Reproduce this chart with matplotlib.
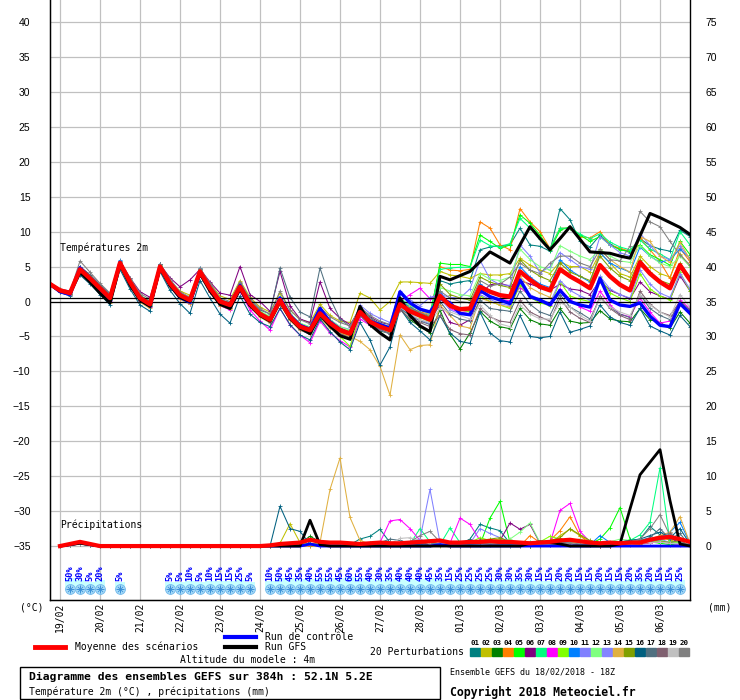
import numpy as np
import matplotlib
matplotlib.use('Agg')
import matplotlib.pyplot as plt
from matplotlib.lines import Line2D
from matplotlib.patches import Rectangle

# 6-hourly steps from 18/02 18Z, 65 steps = 384h
steps = np.arange(65)
date_steps = [1, 5, 9, 13, 17, 21, 25, 29, 33, 37, 41, 45, 49, 53, 57, 61]
date_labels = ['19/02', '20/02', '21/02', '22/02', '23/02', '24/02', '25/02', '26/02',
               '27/02', '28/02', '01/03', '02/03', '03/03', '04/03', '05/03', '06/03']

# temperature 2m (degC)
t_mean = [2.5, 1.6, 1.2, 4.6, 3.3, 1.9, 0.5, 5.5, 2.8, 0.5, -0.4, 5.0, 2.6, 0.9, 0.2, 4.3, 1.9, 0.0, -0.5, 2.1, -0.3,
          -1.8, -2.6, 0.2, -2.2, -3.6, -4.1, -1.7, -3.1, -4.1, -4.6, -1.5, -2.9, -3.6, -4.1, -0.4, -1.4, -2.0, -2.6, 0.8, -0.6,
          -1.1, -1.0, 2.1, 1.4, 0.9, 0.7, 4.3, 3.1, 2.1, 1.6, 4.6, 3.6, 2.8, 1.9, 5.2, 3.6, 2.4, 1.6, 5.6, 4.0, 2.8, 1.9, 5.2, 3.1]
t_ctrl = [2.5, 1.4, 1.0, 4.8, 3.2, 1.6, 0.3, 5.6, 2.6, 0.3, -0.6, 5.0, 2.4, 0.6, -0.1, 4.1, 1.8, -0.2, -0.8, 2.3, -0.5,
          -1.8, -2.6, 0.5, -2.0, -3.4, -4.0, -1.0, -2.9, -4.0, -4.6, -1.6, -2.8, -3.3, -3.8, 1.4, -0.2, -1.1, -1.5, 0.5, -0.2,
          -1.7, -1.9, 1.6, 0.7, 0.2, -0.3, 3.1, 0.7, 0.2, -0.5, 1.6, 0.0, -0.5, -0.8, 3.3, 0.2, -0.5, -0.7, -0.2, -2.1, -3.4, -3.6, -0.3, -1.7]
t_gfs = [2.5, 1.5, 1.3, 4.2, 2.8, 1.2, -0.2, 5.3, 2.4, 0.2, -0.7, 4.8, 2.3, 0.6, 0.0, 4.0, 1.5, -0.4, -1.0, 1.8, -0.6,
         -2.0, -2.8, 0.0, -2.4, -3.8, -4.6, -1.9, -3.5, -4.9, -5.4, -0.7, -3.3, -4.5, -5.5, 0.5, -2.0, -3.5, -4.3, 3.6, 3.1,
         3.7, 4.3, 5.7, 7.1, 6.3, 5.5, 8.1, 10.7, 9.0, 7.4, 9.0, 10.7, 8.9, 7.1, 7.0, 6.9, 6.5, 6.2, 9.4, 12.6, 12.0, 11.3, 10.6, 9.6]

t_p01 = [2.4, 1.5, 1.1, 4.4, 3.0, 1.6, 0.2, 5.2, 2.5, 0.3, -0.6, 4.7, 2.3, 0.5, -0.3, 3.8, 1.5, -0.5, -1.0, 1.7, -0.6,
         -2.0, -2.9, 0.0, -2.5, -3.9, -4.6, -2.0, -3.4, -4.6, -5.2, -2.0, -3.3, -4.0, -4.6, 0.4, -1.0, -1.8, -2.3, 3.0, 2.5,
         2.8, 3.0, 7.4, 7.8, 8.0, 8.1, 10.5, 8.1, 7.9, 7.2, 13.3, 11.7, 8.6, 7.8, 9.5, 8.2, 7.5, 7.0, 9.0, 8.0, 7.5, 7.2, 10.2, 9.3]
t_p02 = [2.6, 1.7, 1.4, 4.9, 3.6, 2.2, 0.8, 5.6, 3.1, 0.9, 0.0, 5.3, 3.0, 1.5, 0.9, 4.6, 2.6, 0.8, 0.3, 3.0, 0.6,
         -0.8, -1.5, 1.2, -1.2, -2.6, -3.0, -0.4, -2.0, -2.8, -3.0, 1.2, 0.5, -1.2, 0.0, 2.8, 2.8, 2.7, 2.6, 4.3, 3.8,
         3.6, 3.3, 4.0, 3.8, 3.8, 4.0, 6.2, 5.2, 4.5, 4.0, 5.7, 5.0, 5.0, 4.2, 7.0, 5.5, 4.0, 3.5, 6.5, 5.0, 4.0, 3.5, 6.8, 5.0]
t_p03 = [2.4, 1.5, 1.0, 4.4, 3.1, 1.7, 0.3, 5.3, 2.6, 0.3, -0.6, 4.8, 2.4, 0.7, 0.0, 4.1, 1.7, -0.2, -0.7, 1.9, -0.5,
         -2.0, -2.8, 0.0, -2.5, -3.9, -4.4, -2.0, -3.4, -4.4, -4.9, -1.8, -3.3, -4.2, -4.6, -1.0, -2.6, -3.6, -4.5, -1.2, -4.7,
         -6.8, -4.5, -1.4, -2.8, -3.6, -3.9, -1.0, -2.6, -3.2, -3.4, -1.0, -2.8, -3.1, -3.0, -1.3, -2.5, -2.8, -2.9, -1.0, -2.6, -3.0, -3.8, -1.5, -3.1]
t_p04 = [2.3, 1.3, 0.9, 4.5, 3.1, 1.6, 0.0, 5.4, 2.3, 0.0, -0.8, 4.9, 2.2, 0.5, -0.2, 4.0, 1.6, -0.4, -0.9, 1.8, -0.6,
         -2.1, -3.0, -0.2, -2.6, -4.0, -4.6, -2.0, -3.4, -4.5, -5.0, -1.6, -3.0, -3.6, -4.0, 0.2, -0.8, -1.5, -1.8, 5.0, 4.5,
         4.4, 4.6, 11.4, 10.5, 8.1, 7.4, 13.3, 11.4, 10.0, 7.6, 10.5, 10.5, 9.3, 9.1, 10.0, 8.1, 7.6, 7.2, 9.1, 7.4, 5.7, 3.3, 7.6, 5.7]
t_p05 = [2.5, 1.6, 1.2, 4.7, 3.4, 2.0, 0.6, 5.5, 2.9, 0.6, -0.3, 5.1, 2.7, 1.0, 0.3, 4.4, 2.0, 0.1, -0.4, 2.2, -0.2,
         -1.7, -2.5, 0.3, -2.1, -3.5, -4.0, -1.6, -3.0, -4.0, -4.5, -1.4, -2.8, -3.5, -4.0, -0.2, -1.2, -1.8, -2.4, 5.5, 5.3,
         5.3, 5.0, 9.5, 8.6, 7.6, 8.1, 12.4, 11.2, 9.5, 7.4, 10.2, 10.7, 9.5, 8.6, 9.3, 8.1, 7.4, 7.2, 8.1, 6.7, 6.0, 5.2, 8.6, 6.7]
t_p06 = [2.6, 1.8, 1.5, 5.0, 3.8, 2.4, 1.0, 5.7, 3.4, 1.4, 0.6, 5.3, 3.4, 2.1, 3.1, 4.6, 2.8, 1.2, 0.9, 5.0, 1.0,
         0.0, -1.4, 4.3, -0.6, -2.5, -3.0, 2.8, -1.0, -2.4, -3.3, -1.2, -2.2, -3.0, -3.3, -0.6, -1.3, -2.0, -2.6, -0.5, -3.0,
         -3.4, -2.6, 1.0, 2.4, 2.6, 2.2, 3.0, 2.5, 2.0, 1.6, 2.5, 1.8, 1.6, 1.0, 3.0, 1.6, 1.0, 0.4, 2.8, 1.4, 0.8, 0.3, 3.7, 1.5]
t_p07 = [2.4, 1.5, 1.1, 4.6, 3.2, 1.8, 0.4, 5.4, 2.7, 0.4, -0.5, 4.9, 2.5, 0.8, 0.1, 4.2, 1.8, -0.1, -0.6, 2.0, -0.4,
         -1.9, -2.7, 0.1, -2.3, -3.7, -4.2, -1.8, -3.2, -4.3, -4.8, -1.4, -2.8, -3.4, -3.8, 0.5, -0.6, -1.2, -1.7, 4.6, 4.8,
         4.9, 4.9, 8.8, 8.0, 7.8, 8.3, 11.9, 10.5, 9.0, 7.6, 10.5, 10.5, 9.6, 9.0, 9.7, 8.5, 7.8, 7.4, 8.8, 7.5, 6.8, 6.0, 10.0, 8.1]
t_p08 = [2.5, 1.5, 1.0, 4.4, 3.0, 1.5, 0.1, 5.2, 2.4, 0.1, -0.8, 4.7, 2.2, 0.4, -0.3, 3.9, 1.4, -0.6, -1.2, 1.5, -1.2,
         -2.8, -4.1, -1.0, -3.4, -4.8, -5.9, -2.8, -4.5, -5.6, -6.5, -2.5, -3.4, -3.5, -3.6, 0.0, 1.0, 1.9, 0.4, 1.2, -1.0,
         -1.6, -1.4, 1.5, 0.5, 0.3, 0.1, 2.0, 0.8, 0.0, -0.5, 1.8, 0.3, -0.8, -1.4, 1.5, -0.5, -1.8, -2.2, 0.5, -1.5, -3.1, -2.8, 0.2, -1.0]
t_p09 = [2.6, 1.6, 1.1, 4.5, 3.2, 1.8, 0.4, 5.5, 2.7, 0.4, -0.5, 5.1, 2.6, 0.8, 0.1, 4.3, 1.8, -0.1, -0.6, 2.2, -0.3,
         -1.9, -2.7, 0.0, -2.3, -3.8, -4.3, -1.7, -3.4, -5.0, -6.4, -1.9, -3.1, -3.8, -4.4, -0.8, -1.6, -2.3, -2.9, 1.0, -0.5,
         -1.2, -1.5, 0.8, 0.0, -0.5, -1.0, 2.4, 0.6, -0.2, -0.6, 2.8, 0.8, 0.3, 0.0, 3.5, 1.2, 0.5, 0.0, 4.0, 1.8, 0.8, 0.2, 4.2, 1.5]
t_p10 = [2.5, 1.5, 1.0, 5.0, 3.5, 2.0, 0.5, 5.9, 3.0, 0.6, -0.3, 5.4, 2.8, 1.0, 0.2, 4.8, 2.2, 0.0, -0.5, 2.4, -0.2,
         -1.7, -2.5, 0.7, -2.0, -3.4, -3.9, -1.2, -2.9, -3.9, -4.4, -0.9, -2.6, -3.3, -3.9, 0.3, -0.8, -1.6, -2.2, 1.5, -0.5,
         -1.0, -1.2, 2.5, 1.5, 1.0, 0.8, 5.0, 3.5, 2.5, 2.0, 6.0, 4.5, 3.6, 2.8, 7.0, 5.5, 4.8, 4.2, 7.8, 6.5, 5.6, 6.0, 7.5, 6.2]
t_p11 = [2.5, 1.6, 1.2, 4.6, 3.4, 2.0, 0.6, 5.5, 2.9, 0.7, -0.2, 5.2, 2.8, 1.1, 0.5, 4.5, 2.1, 0.3, -0.2, 2.4, 0.0,
         -1.5, -2.2, 0.5, -1.8, -3.2, -3.7, -1.3, -2.6, -3.6, -4.0, -0.5, -1.7, -2.4, -3.0, 1.5, 0.2, -0.6, 0.6, 1.0, 0.6,
         0.5, 1.8, 5.9, 3.2, 2.4, 2.3, 8.1, 6.5, 4.1, 5.0, 7.0, 6.0, 5.0, 4.6, 9.3, 8.1, 7.0, 6.5, 9.8, 8.0, 6.5, 6.0, 8.0, 6.0]
t_p12 = [2.7, 1.8, 1.4, 4.8, 3.6, 2.2, 0.8, 5.7, 3.1, 0.8, 0.0, 5.2, 2.9, 1.2, 0.5, 4.6, 2.3, 0.3, -0.2, 2.5, 0.1,
         -1.4, -2.1, 0.6, -1.7, -3.1, -3.6, -1.2, -2.6, -3.6, -4.1, -1.0, -2.4, -3.1, -3.6, 0.3, -0.6, -1.2, -1.8, 2.0, 1.5,
         1.0, 0.8, 4.0, 3.2, 3.0, 3.5, 7.5, 6.0, 5.0, 4.5, 8.0, 7.2, 6.5, 6.0, 7.5, 6.5, 5.8, 5.6, 8.0, 6.5, 5.5, 5.0, 6.5, 5.0]
t_p13 = [2.4, 1.4, 1.0, 4.5, 3.1, 1.6, 0.2, 5.3, 2.5, 0.2, -0.7, 4.8, 2.3, 0.5, -0.2, 4.0, 1.6, -0.3, -0.8, 1.8, -0.6,
         -2.1, -3.0, -0.3, -2.6, -4.1, -4.7, -2.2, -3.6, -4.7, -5.2, -2.0, -3.4, -4.1, -4.6, -0.9, -1.9, -2.6, -3.2, 0.4, -1.2,
         -1.8, -2.0, 1.0, 0.3, -0.3, -0.6, 2.8, 1.0, 0.3, -0.2, 3.0, 1.6, 0.8, 0.2, 3.6, 1.8, 1.0, 0.5, 4.5, 2.5, 1.2, 0.6, 4.0, 1.8]
t_p14 = [2.3, 1.4, 0.9, 4.2, 2.8, 1.3, -0.2, 5.0, 2.2, -0.1, -1.0, 4.6, 2.1, 0.3, -0.4, 3.8, 1.4, -0.6, -1.1, 1.7, -0.7,
         -2.2, -3.1, -0.4, -2.7, -4.1, -4.6, -2.4, -3.8, -4.5, -5.0, -5.7, -6.9, -9.3, -13.4, -4.8, -6.9, -6.3, -6.2, -0.5, -2.0,
         -3.5, -3.8, 0.5, 0.0, -0.5, -0.8, 3.6, 2.0, 1.2, 0.6, 5.0, 3.6, 2.8, 2.2, 7.5, 6.0, 5.0, 4.2, 9.3, 8.6, 6.5, 5.6, 8.5, 6.0]
t_p15 = [2.5, 1.6, 1.3, 4.8, 3.5, 2.1, 0.7, 5.6, 3.0, 0.7, -0.2, 5.2, 2.8, 1.1, 0.4, 4.5, 2.1, 0.2, -0.3, 2.3, 0.0,
         -1.5, -2.3, 0.5, -1.9, -3.3, -3.8, -1.4, -2.8, -3.8, -4.3, -1.2, -2.5, -3.2, -3.8, 0.0, -1.0, -1.6, -2.2, 2.5, 1.0,
         0.5, 0.2, 3.5, 2.8, 2.3, 2.0, 6.0, 4.5, 3.6, 3.0, 5.5, 4.2, 3.6, 3.0, 6.5, 4.8, 3.6, 3.0, 6.0, 4.2, 3.0, 2.5, 5.5, 3.5]
t_p16 = [2.3, 1.3, 0.8, 3.8, 2.5, 1.0, -0.5, 4.6, 1.8, -0.5, -1.4, 4.3, 1.6, -0.3, -1.7, 3.0, 0.5, -1.8, -3.1, 0.8, -1.8,
         -3.0, -3.6, -1.0, -3.3, -4.8, -5.5, -2.5, -4.3, -5.8, -6.9, -3.0, -5.5, -9.1, -6.5, -1.0, -3.0, -4.2, -5.5, -2.0, -4.5,
         -5.7, -6.0, -1.5, -4.5, -5.6, -5.8, -2.0, -5.0, -5.2, -5.0, -1.5, -4.4, -4.0, -3.5, -0.5, -2.2, -3.0, -3.4, -1.0, -3.5, -4.2, -4.8, -2.0, -3.6]
t_p17 = [2.6, 1.7, 1.3, 5.0, 3.8, 2.4, 1.0, 5.8, 3.2, 0.9, 0.0, 5.3, 3.0, 1.2, 0.5, 4.6, 2.3, 0.3, -0.2, 2.6, 0.3,
         -1.2, -1.8, 4.8, 0.6, -1.5, -2.2, 4.8, 0.5, -2.5, -3.6, -0.8, -2.3, -3.3, -4.0, -1.0, -2.0, -2.8, -3.3, 0.0, -1.8,
         -2.5, -2.8, 0.2, -1.0, -1.2, -1.4, 1.5, -0.4, -1.5, -2.0, 1.0, -0.8, -1.6, -2.5, 0.5, -0.8, -1.8, -2.3, 1.0, -1.0, -2.0, -2.6, 0.0, -1.2]
t_p18 = [2.5, 1.5, 1.1, 4.6, 3.3, 1.9, 0.5, 5.4, 2.7, 0.4, -0.5, 4.9, 2.5, 0.7, 0.0, 4.1, 1.7, -0.3, -0.8, 1.9, -0.5,
         -2.0, -2.9, -0.1, -2.5, -3.9, -4.5, -2.0, -3.5, -4.6, -5.2, -2.0, -3.4, -4.0, -4.6, -1.2, -2.4, -3.0, -3.6, -2.0, -4.0,
         -4.6, -4.8, -1.0, -2.2, -2.8, -3.0, 0.2, -1.5, -2.2, -2.8, 0.5, -1.5, -2.4, -3.0, 0.8, -1.0, -2.0, -2.6, 1.5, -0.4, -1.5, -2.0, 0.0, -1.4]
t_p19 = [2.5, 1.6, 1.2, 4.7, 3.4, 2.0, 0.6, 5.6, 2.9, 0.6, -0.3, 5.0, 2.7, 1.0, 0.3, 4.3, 2.0, 0.1, -0.4, 2.2, -0.2,
         -1.7, -2.4, 0.4, -2.0, -3.4, -3.9, -1.5, -2.9, -3.9, -4.4, -1.3, -2.6, -3.2, -3.8, -0.8, -1.7, -2.6, -3.0, -1.0, -1.5,
         -2.0, -2.5, -0.5, -2.0, -3.2, -3.6, -0.5, -1.8, -2.5, -2.5, -0.2, -0.8, -2.0, -2.8, 0.5, -0.8, -1.5, -2.0, 1.0, -0.5, -1.5, -2.2, 1.0, -0.8]
t_p20 = [2.6, 1.7, 1.4, 5.8, 4.2, 2.6, 1.2, 5.8, 3.4, 1.2, 0.3, 5.4, 3.2, 1.4, 0.6, 4.8, 2.6, 0.5, 0.0, 2.8, 0.4,
         -1.0, -1.8, 1.5, -1.2, -2.6, -3.2, -0.8, -2.2, -3.0, -3.5, -0.8, -2.0, -2.8, -3.3, 0.0, -1.0, -1.6, -2.0, 1.5, 0.5,
         0.0, -0.2, 3.0, 2.2, 2.5, 3.5, 5.5, 4.5, 4.0, 5.5, 6.5, 6.5, 5.5, 5.0, 7.5, 6.0, 5.8, 7.9, 12.9, 11.4, 10.7, 8.6, 6.7, 5.2]

# precipitation (mm), steps 1..64
pr_steps = np.arange(1, 65)
pr_mean = [0, 0.3, 0.6, 0.3, 0, 0, 0, 0,  0, 0, 0, 0, 0, 0, 0, 0,  0, 0, 0, 0, 0, 0.1, 0.3, 0.4,
           0.5, 0.9, 0.6, 0.5, 0.5, 0.4, 0.3, 0.4,  0.5, 0.4, 0.4, 0.5, 0.6, 0.7, 0.8, 0.5,
           0.5, 0.6, 0.6, 0.7, 0.6, 0.6, 0.5, 0.4,  0.5, 0.6, 0.8, 0.9, 0.7, 0.5, 0.4, 0.5,
           0.4, 0.5, 0.5, 0.9, 1.2, 1.3, 1.0, 0.6]
pr_ctrl = [0, 0.2, 0.5, 0.2, 0, 0, 0, 0,  0, 0, 0, 0, 0, 0, 0, 0,  0, 0, 0, 0, 0, 0, 0, 0,
           0, 0.3, 0, 0, 0, 0, 0, 0,  0, 0, 0, 0, 0, 0, 0.2, 0,  0, 0, 0, 0, 0, 0, 0, 0,
           0, 0, 0, 0, 0, 0, 0, 0,  0, 0, 0, 0, 0, 0, 0, 0]
pr_gfs = [0, 0.2, 0.4, 0.2, 0, 0, 0, 0,  0, 0, 0, 0, 0, 0, 0, 0,  0, 0, 0, 0, 0, 0, 0, 0,
          0, 3.7, 0.2, 0, 0, 0, 0, 0,  0, 0, 0, 0, 0, 0, 0, 0,  0, 0, 0, 0, 0, 0, 0, 0.4,
          0.6, 0.5, 0.3, 0, 0, 0, 0, 0,  0.3, 5.3, 10.2, 12.0, 13.8, 6.5, 0.3, 0]

pr_p01 = [0, 0.2, 0.5, 0.2, 0, 0, 0, 0,  0, 0, 0, 0, 0, 0, 0, 0,  0, 0, 0, 0, 0, 0, 0.3, 0.2,
          0.1, 0.3, 0, 0, 0, 0.2, 1.0, 1.4,  2.4, 0.5, 0.2, 0, 0.3, 0.6, 0.2, 0,
          0.3, 1.0, 3.1, 2.6, 2.2, 0.4, 0.2, 0,  0, 0.3, 0.5, 0.2, 0, 0.1, 0.3, 0.2,
          0.5, 0.8, 1.0, 2.8, 1.6, 0.8, 0.3, 0]
pr_p02 = [0, 0.1, 0.4, 0.1, 0, 0, 0, 0,  0, 0, 0, 0, 0, 0, 0, 0,  0, 0, 0, 0, 0, 0, 0.4, 3.2,
          0.5, 0, 0, 0.4, 0.3, 0.2, 0, 0.5,  0.2, 0, 0.3, 0.5, 0.6, 0.4, 0, 0,
          0.2, 0.4, 0.5, 0.8, 1.0, 0.6, 0.2, 0,  0, 0.3, 1.5, 2.4, 1.5, 0.6, 0.2, 0,
          0, 0.2, 0.3, 0.5, 1.4, 0.8, 0.6, 0]
pr_p03 = [0, 0.2, 0.3, 0.1, 0, 0, 0, 0,  0, 0, 0, 0, 0, 0, 0, 0,  0, 0, 0, 0, 0, 0, 0, 0.2,
          0.4, 1.4, 0.6, 0.2, 0, 0, 0.2, 0.1,  0, 0.3, 0.2, 0.4, 0.8, 0.5, 0.3, 0,
          0.2, 0.3, 0.5, 0.4, 0.6, 0.3, 0.1, 0,  0.2, 0.3, 0.5, 0.8, 0.3, 0.1, 0, 0,
          0.1, 0.3, 0.4, 0.6, 0.9, 1.5, 0.4, 0]
pr_p04 = [0, 0.2, 0.4, 0.2, 0, 0, 0, 0,  0, 0, 0, 0, 0, 0, 0, 0,  0, 0, 0, 0, 0, 0, 0, 0,
          0, 0, 0.2, 0.3, 0, 0, 0, 0,  0, 0, 0, 0, 0.2, 0.4, 0.3, 0,
          0, 0, 0.2, 0.3, 0.2, 0, 0, 1.5,  0.5, 0.8, 2.2, 4.2, 1.5, 0.3, 0, 0,
          0, 0.2, 0.3, 0.4, 0.8, 1.2, 0.6, 0]
pr_p05 = [0, 0.3, 0.5, 0.2, 0, 0, 0, 0,  0, 0, 0, 0, 0, 0, 0, 0,  0, 0, 0, 0, 0, 0, 0, 0.3,
          0.2, 0.4, 0.2, 0.3, 0.3, 0.2, 0.4, 0.3,  0.5, 0.2, 0.4, 0.3, 0.6, 0.3, 0.2, 0.2,
          0.4, 0.3, 0.2, 4.0, 6.4, 0.5, 0.2, 0.3,  0.4, 0.6, 0.8, 0.5, 0.2, 0.3, 1.0, 2.6,
          5.5, 1.0, 0.5, 0.6, 0.4, 0.2, 0.3, 0]
pr_p06 = [0, 0.1, 0.3, 0.1, 0, 0, 0, 0,  0, 0, 0, 0, 0, 0, 0, 0,  0, 0, 0, 0, 0, 0, 0, 0,
          0, 0.2, 0, 0, 0, 0, 0, 0.2,  0.3, 0, 0, 0.2, 0.4, 0.3, 0.1, 0,
          0, 0.2, 0.3, 0.4, 0.8, 3.3, 2.4, 3.1,  0.4, 0.2, 0.3, 0.5, 0.3, 0.2, 0, 0,
          0.2, 0.3, 0.4, 0.5, 1.4, 1.2, 0.4, 0]
pr_p07 = [0, 0.2, 0.4, 0.2, 0, 0, 0, 0,  0, 0, 0, 0, 0, 0, 0, 0,  0, 0, 0, 0, 0, 0, 0, 0,
          0, 0.2, 0.3, 0.2, 0.4, 0.3, 0.2, 0.5,  0.3, 0.2, 0.4, 0.3, 2.5, 0.6, 0.2, 2.6,
          0.5, 0.3, 0.6, 0.4, 0.3, 0.2, 0.4, 0.6,  0.3, 0.5, 0.4, 0.6, 0.3, 0.4, 0.5, 0.3,
          0.6, 0.8, 1.6, 3.4, 11.2, 0.5, 0.3, 0]
pr_p08 = [0, 0.1, 0.3, 0.2, 0, 0, 0, 0,  0, 0, 0, 0, 0, 0, 0, 0,  0, 0, 0, 0, 0, 0, 0, 0,
          0, 0.2, 0.1, 0, 0, 0, 0.2, 0.3,  0.5, 3.6, 3.8, 2.5, 0.8, 0.3, 0.2, 0.4,
          4.0, 3.1, 0.8, 0.3, 0.2, 0.4, 0.5, 0.3,  0.2, 0.4, 5.1, 6.1, 2.1, 0.6, 0.3, 0.2,
          0.2, 0.3, 0.4, 0.5, 0.6, 0.4, 0.2, 0]
pr_p09 = [0, 0.2, 0.5, 0.3, 0, 0, 0, 0,  0, 0, 0, 0, 0, 0, 0, 0,  0, 0, 0, 0, 0, 0, 0, 0,
          0, 0.3, 0.2, 0.2, 0.1, 0.2, 0.3, 0.2,  0.2, 0.3, 0.2, 0.2, 0.4, 0.6, 0.3, 0.2,
          0.3, 0.5, 1.2, 0.8, 0.6, 0.4, 0.2, 0.3,  0.6, 1.4, 1.0, 0.6, 0.3, 0.2, 0.2, 0.3,
          0.3, 0.4, 0.5, 0.6, 0.7, 0.6, 0.5, 0]
pr_p10 = [0, 0.2, 0.4, 0.2, 0, 0, 0, 0,  0, 0, 0, 0, 0, 0, 0, 0,  0, 0, 0, 0, 0, 0, 0, 0,
          0, 0.1, 0.2, 0, 0, 0, 0, 0.2,  0.3, 0.2, 0.1, 0, 0.3, 0.5, 0.3, 0,
          0, 0.2, 0.4, 0.5, 0.3, 0, 0, 0.2,  0.5, 0.6, 1.0, 0.6, 0.4, 0.2, 1.5, 0.5,
          0.3, 0.5, 0.8, 0.6, 1.2, 2.0, 3.4, 0.4]
pr_p11 = [0, 0.2, 0.3, 0.1, 0, 0, 0, 0,  0, 0, 0, 0, 0, 0, 0, 0,  0, 0, 0, 0, 0, 0, 0, 0,
          0, 0.2, 0, 0, 0, 0, 0.3, 0.2,  0.3, 0.2, 0.4, 0.6, 1.0, 8.1, 0.5, 0.2,
          0.3, 0.4, 2.5, 1.8, 1.2, 0.6, 0.3, 0.2,  0.3, 0.4, 0.6, 0.5, 0.3, 0.2, 0.4, 0.3,
          0.2, 0.4, 0.5, 0.6, 1.0, 0.5, 0.3, 0]
pr_p12 = [0, 0.2, 0.4, 0.2, 0, 0, 0, 0,  0, 0, 0, 0, 0, 0, 0, 0,  0, 0, 0, 0, 0, 0, 0, 0,
          0, 0.2, 0.3, 0.4, 0.3, 0.2, 0.3, 0.2,  0.2, 0.3, 0.2, 0.4, 0.3, 0.4, 0.2, 0.3,
          0.2, 0.3, 0.4, 0.3, 0.5, 1.0, 2.0, 3.3,  0.5, 0.3, 0.6, 0.8, 1.0, 0.5, 0.3, 0.6,
          1.0, 0.8, 0.7, 1.0, 0.8, 0.5, 0.4, 0]
pr_p13 = [0, 0.2, 0.3, 0.2, 0, 0, 0, 0,  0, 0, 0, 0, 0, 0, 0, 0,  0, 0, 0, 0, 0, 0, 0, 0,
          0, 0.2, 0.2, 0, 0, 0.3, 0.2, 0.2,  0.3, 0.2, 0.4, 0.3, 0.5, 0.4, 0.3, 0.2,
          0.2, 0.3, 0.5, 0.4, 0.6, 0.3, 0.2, 0.3,  0.4, 0.5, 0.3, 0.4, 0.5, 0.3, 0.2, 0.4,
          0.5, 0.6, 0.8, 1.2, 0.7, 0.5, 0.8, 0]
pr_p14 = [0, 0.2, 0.4, 0.2, 0, 0, 0, 0,  0, 0, 0, 0, 0, 0, 0, 0,  0, 0, 0, 0, 0, 0, 0, 0,
          0, 0.3, 0.5, 8.1, 12.6, 4.1, 0.8, 0.3,  0.2, 0.1, 0.2, 0.3, 0.4, 0.2, 0.1, 0,
          0.2, 0.3, 0.4, 0.3, 0.2, 0.1, 0.3, 0.4,  0.5, 0.8, 1.0, 0.6, 0.4, 0.3, 0.2, 0.3,
          0.4, 0.6, 0.8, 1.0, 1.5, 2.0, 4.2, 0.4]
pr_p15 = [0, 0.1, 0.3, 0.1, 0, 0, 0, 0,  0, 0, 0, 0, 0, 0, 0, 0,  0, 0, 0, 0, 0, 0, 0, 0,
          0, 0.2, 0.3, 0.2, 0.1, 0.2, 0.1, 0.2,  0.4, 0.3, 0.2, 0.3, 0.5, 0.3, 0.2, 0.1,
          0.3, 0.5, 0.8, 1.0, 1.2, 0.6, 0.3, 0.2,  0.5, 0.8, 1.2, 2.5, 1.6, 0.8, 0.4, 0.2,
          0.3, 0.4, 0.6, 0.8, 0.7, 0.5, 0.8, 0]
pr_p16 = [0, 0.2, 0.3, 0.1, 0, 0, 0, 0,  0, 0, 0, 0, 0, 0, 0, 0,  0, 0, 0, 0, 0, 0, 5.7, 2.5,
          2.1, 0.3, 0.2, 0, 0, 0.2, 0.3, 0.2,  0.4, 0.3, 0.2, 0.1, 0.3, 0.4, 0.2, 0.1,
          0.2, 0.3, 0.4, 0.3, 0.2, 0.3, 0.4, 0.2,  0.3, 0.4, 0.5, 0.3, 0.2, 0.3, 0.4, 0.5,
          0.6, 0.8, 1.0, 1.5, 2.0, 1.2, 2.5, 0.3]
pr_p17 = [0, 0.2, 0.4, 0.2, 0, 0, 0, 0,  0, 0, 0, 0, 0, 0, 0, 0,  0, 0, 0, 0, 0, 0, 0, 0,
          0, 0.2, 0.1, 0, 0.3, 0.2, 0.3, 0.2,  0.5, 1.0, 0.8, 0.4, 0.3, 0.2, 0.1, 0,
          0.2, 0.4, 0.8, 0.6, 0.3, 0.2, 0.1, 0.2,  0.3, 0.2, 0.4, 0.3, 0.2, 0.3, 0.4, 0.5,
          0.6, 0.5, 0.8, 1.2, 2.5, 1.0, 1.8, 0]
pr_p18 = [0, 0.1, 0.3, 0.2, 0, 0, 0, 0,  0, 0, 0, 0, 0, 0, 0, 0,  0, 0, 0, 0, 0, 0, 0, 0,
          0, 0.1, 0.2, 0.1, 0, 0.2, 0.3, 0.2,  0.2, 0.1, 0.3, 0.2, 0.4, 0.3, 0.2, 0.1,
          0.1, 0.2, 0.3, 0.2, 0.4, 0.3, 0.2, 0.1,  0.2, 0.3, 0.4, 0.3, 0.2, 0.1, 0.2, 0.3,
          0.4, 0.3, 0.5, 0.6, 1.0, 1.8, 0.8, 0]
pr_p19 = [0, 0.1, 0.3, 0.1, 0, 0, 0, 0,  0, 0, 0, 0, 0, 0, 0, 0,  0, 0, 0, 0, 0, 0, 0, 0,
          0, 0.2, 0.1, 0.2, 0.3, 0.2, 0.3, 0.2,  0.2, 0.3, 1.1, 1.2, 0.8, 0.3, 0.2, 0.1,
          0.2, 0.1, 0.2, 0.3, 0.2, 0.1, 0.2, 0.3,  0.2, 0.3, 0.2, 0.3, 0.4, 0.2, 0.3, 0.2,
          0.3, 0.2, 0.4, 0.5, 0.6, 0.4, 0.3, 0]
pr_p20 = [0, 0.2, 0.4, 0.2, 0, 0, 0, 0,  0, 0, 0, 0, 0, 0, 0, 0,  0, 0, 0, 0, 0, 0, 0, 0,
          0, 0.2, 0.3, 0.2, 0.1, 0, 0.2, 0.3,  0.2, 0.3, 0.4, 0.6, 1.5, 2.1, 0.6, 0.2,
          0.2, 0.3, 0.4, 0.3, 0.2, 0.3, 0.2, 0.1,  0.2, 0.3, 0.4, 0.5, 0.3, 0.2, 0.3, 0.4,
          0.5, 0.6, 1.0, 2.5, 4.5, 1.5, 0.6, 0]

# snow probability (%)
snow_steps = [2, 3, 4, 5, 7, 12, 13, 14, 15, 16, 17, 18, 19, 20] + list(range(22, 64))
snow_pct = [50, 30, 5, 20, 5, 5, 5, 10, 5, 10, 15, 15, 25, 5,
            10, 50, 45, 35, 40, 55, 55, 45, 60, 55,
            40, 30, 35, 40, 40, 40, 45, 35, 15,
            25, 25, 25, 25, 30, 30, 35, 30, 15, 15, 20, 20, 15, 15, 20, 15, 15, 20, 35, 20, 15, 15, 25]

pert_names = ['%02d' % k for k in range(1, 21)]
pert_colors = ['#008080', '#c0c000', '#008000', '#ff8000', '#00ff00', '#800080', '#00ff80',
               '#ff00ff', '#80ff00', '#0080ff', '#8080ff', '#80ff80', '#8484ff', '#e0b040',
               '#80a000', '#006080', '#507080', '#806070', '#c0c0c0', '#808080']

temps = [t_p01, t_p02, t_p03, t_p04, t_p05, t_p06, t_p07, t_p08, t_p09, t_p10,
         t_p11, t_p12, t_p13, t_p14, t_p15, t_p16, t_p17, t_p18, t_p19, t_p20]
precs = [pr_p01, pr_p02, pr_p03, pr_p04, pr_p05, pr_p06, pr_p07, pr_p08, pr_p09, pr_p10,
         pr_p11, pr_p12, pr_p13, pr_p14, pr_p15, pr_p16, pr_p17, pr_p18, pr_p19, pr_p20]

# ---- layout helpers (pixel positions of the 740x700 image) ----
W, H = 740, 700
MONO = 'DejaVu Sans Mono'
Y_TOP, Y_BOT = 43.15, -42.72


def fx(px):
    return px / W


def fy(py):
    return 1 - py / H


def ty(py):
    # pixel row inside the plot -> temperature units
    return Y_TOP - py / 600 * (Y_TOP - Y_BOT)


fig = plt.figure(figsize=(7.4, 7), dpi=100)
ax = fig.add_axes([fx(50), fy(600), 640 / W, 600 / H])
ax.set_xlim(0, 64)
ax.set_ylim(Y_BOT, Y_TOP)
ax.set_yticks(range(-35, 41, 5))
ax.set_xticks(date_steps)
ax.set_xticklabels(date_labels, rotation=90, family=MONO, fontsize=7)
ax.tick_params(axis='x', length=0, pad=2)
ax.tick_params(axis='y', length=0, pad=14, labelsize=7.5)
for lab in ax.get_yticklabels():
    lab.set_family('Liberation Sans')
ax.grid(True, color='#c0c0c0', lw=0.9)
ax.set_axisbelow(True)
ax.spines['top'].set_visible(False)
ax.spines['right'].set_visible(False)
for s in ['left', 'bottom']:
    ax.spines[s].set_linewidth(1.0)

# temperatures
for vals, col in zip(temps, pert_colors):
    ax.plot(steps, vals, color=col, lw=0.75, marker='+', ms=2.5, mew=0.6, zorder=2)
ax.axhline(0, color='black', lw=0.9, zorder=2.5)
ax.axhline(0.5, color='black', lw=0.9, zorder=2.5)
ax.plot(steps, t_ctrl, color='#0000ff', lw=2.4, zorder=3)
ax.plot(steps, t_gfs, color='black', lw=2.2, zorder=4)
ax.plot(steps, t_mean, color='#ff0000', lw=3.2, zorder=5)

# snow probability strip
bar_h = [(8 + 0.08 * p) * (Y_TOP - Y_BOT) / 600 for p in snow_pct]
ax.bar(snow_steps, bar_h, bottom=ty(590), width=1.0, color='#c8ffff', zorder=1)
ax.scatter(snow_steps, [ty(589)] * len(snow_steps), s=50, c='#a8dcf8', edgecolors='#70b8ec',
           linewidths=0.6, zorder=6)
ax.scatter(snow_steps, [ty(589)] * len(snow_steps), s=26, marker='+', c='#3a90d8', linewidths=0.7, zorder=7)
ax.scatter(snow_steps, [ty(589)] * len(snow_steps), s=14, marker='x', c='#3a90d8', linewidths=0.6, zorder=7)
for st, p in zip(snow_steps, snow_pct):
    ax.text(st, ty(581), '%d%%' % p, rotation=90, ha='center', va='bottom', color='#0000ff',
            fontsize=6.2, family=MONO, fontweight='bold', zorder=8)

# precipitation on the right scale
ax2 = ax.twinx()
ax2.set_ylim(Y_BOT + 35, Y_TOP + 35)
ax2.set_yticks(range(0, 76, 5))
ax2.tick_params(axis='y', length=0, pad=11, labelsize=7.5)
for lab in ax2.get_yticklabels():
    lab.set_family('Liberation Sans')
ax2.spines['top'].set_visible(False)
ax2.spines['right'].set_linewidth(1.0)
for vals, col in zip(precs, pert_colors):
    ax2.plot(pr_steps, vals, color=col, lw=0.75, marker='+', ms=2.5, mew=0.6, zorder=2)
ax2.plot(pr_steps, pr_ctrl, color='#0000ff', lw=2.0, zorder=3)
ax2.plot(pr_steps, pr_gfs, color='black', lw=2.0, zorder=4)
ax2.plot(pr_steps, pr_mean, color='#ff0000', lw=3.0, zorder=5)

# texts in and around the plot
fig.text(fx(60), fy(248), 'Températures 2m', family=MONO, fontsize=7, va='center')
fig.text(fx(60), fy(525), 'Précipitations', family=MONO, fontsize=7, va='center')
fig.text(fx(20), fy(607), '(°C)', family=MONO, fontsize=7, va='center')
fig.text(fx(708), fy(607), '(mm)', family=MONO, fontsize=7, va='center')

# legend
fig.add_artist(Line2D([fx(35), fx(65)], [fy(647), fy(647)], color='#ff0000', lw=3.5, transform=fig.transFigure))
fig.text(fx(75), fy(647), 'Moyenne des scénarios', family=MONO, fontsize=7, va='center')
fig.add_artist(Line2D([fx(225), fx(256)], [fy(637), fy(637)], color='#0000ff', lw=3, transform=fig.transFigure))
fig.text(fx(265), fy(637), 'Run de contrôle', family=MONO, fontsize=7, va='center')
fig.add_artist(Line2D([fx(225), fx(256)], [fy(647), fy(647)], color='black', lw=3, transform=fig.transFigure))
fig.text(fx(265), fy(647), 'Run GFS', family=MONO, fontsize=7, va='center')
fig.text(fx(180), fy(660), 'Altitude du modele : 4m', family=MONO, fontsize=7, va='center')
fig.text(fx(370), fy(652), '20 Perturbations', family=MONO, fontsize=7, va='center')
for k, (name, col) in enumerate(zip(pert_names, pert_colors)):
    x0 = 470 + 11 * k
    fig.add_artist(Rectangle((fx(x0), fy(656)), 10 / W, 8 / H, color=col, transform=fig.transFigure))
    fig.text(fx(x0 + 5), fy(643), name, family=MONO, fontsize=5.3, fontweight='bold',
             ha='center', va='center')

fig.add_artist(Rectangle((fx(20), fy(699)), 420 / W, 32 / H, fill=False, ec='black', lw=1,
                         transform=fig.transFigure))
fig.text(fx(29), fy(677), 'Diagramme des ensembles GEFS sur 384h : 52.1N 5.2E', family=MONO,
         fontsize=8.2, fontweight='bold', va='center')
fig.text(fx(29), fy(692), 'Température 2m (°C) , précipitations (mm)', family=MONO, fontsize=7, va='center')
fig.text(fx(450), fy(672), 'Ensemble GEFS du 18/02/2018 - 18Z', family=MONO, fontsize=6.0, va='center')
fig.text(fx(450), fy(692), 'Copyright 2018 Meteociel.fr', family=MONO, fontsize=8.3, fontweight='bold',
         va='center')

fig.savefig('out.png', dpi=100)
